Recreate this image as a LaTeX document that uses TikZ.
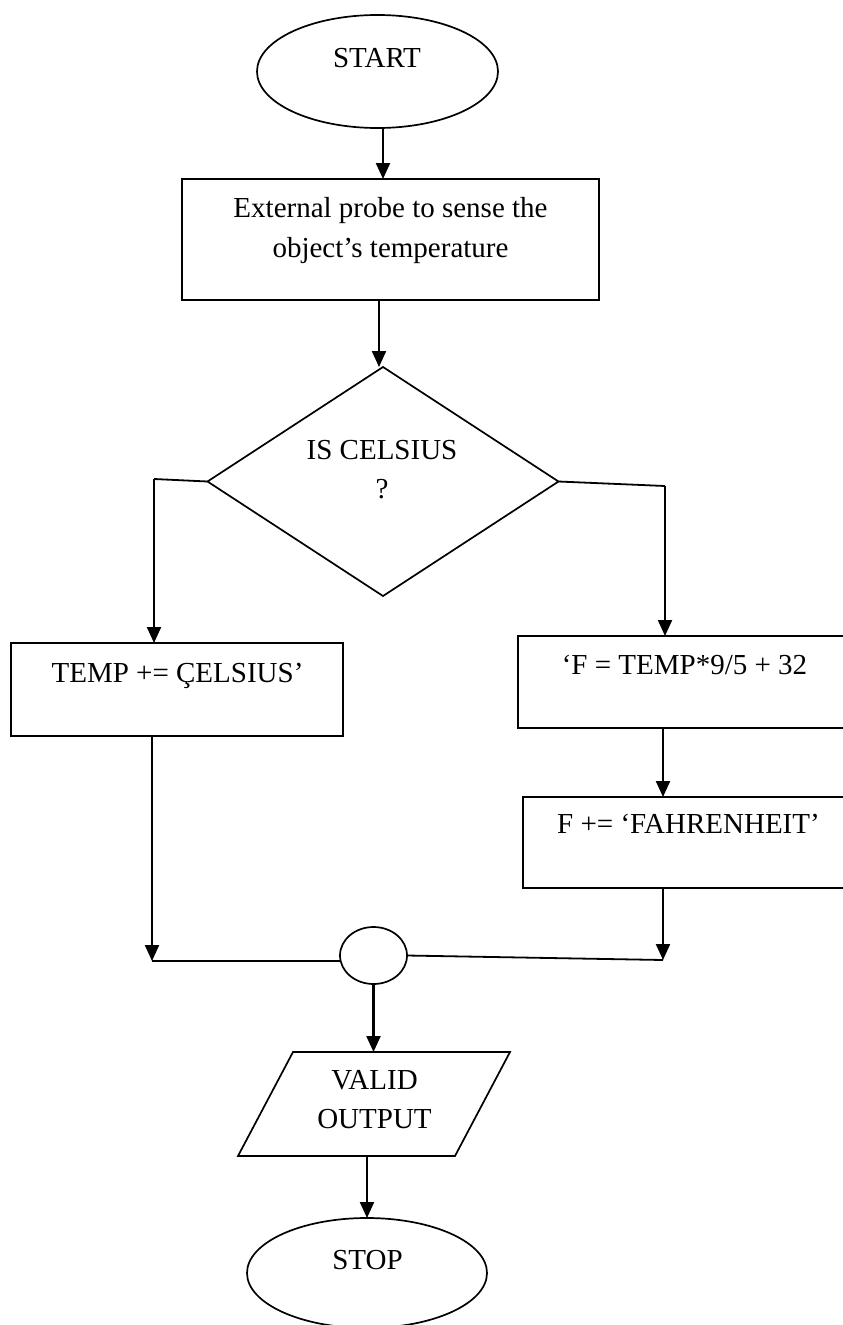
\documentclass[tikz,border=0pt]{standalone}
\usepackage{fontspec}
\setmainfont{Liberation Serif}
\usetikzlibrary{shapes.geometric,arrows.meta}
\begin{document}
\begin{tikzpicture}[x=1pt,y=-1pt,
  lbl/.style={font=\fontsize{29pt}{40pt}\selectfont, inner sep=0pt, outer sep=0pt},
  term/.style={draw, ellipse, line width=1.7pt, inner sep=0pt, outer sep=0pt},
  procbox/.style={draw, rectangle, line width=2.2pt, inner sep=0pt, outer sep=0pt},
  decision/.style={draw, diamond, line width=1.7pt, inner sep=0pt, outer sep=0pt},
  flow/.style={line width=2.2pt, -{Triangle[length=16pt,width=14pt]}},
  link/.style={line width=1.8pt},
]
\useasboundingbox (0,0) rectangle (843,1325);
\clip (0,0) rectangle (843,1325);
\fill[white] (0,0) rectangle (843,1325);

% terminal: start
\node[term, minimum width=241pt, minimum height=113pt] (start) at (377.5,71.5) {};
\node[lbl, anchor=base] (starttxt) at (377,67) {START};

% sensing step
\node[procbox, minimum width=417pt, minimum height=121pt] (probe) at (390.5,239.5) {};
\node[lbl, anchor=north, align=center] (probetxt) at (390.5,197.5) {External probe to sense the\\object’s temperature};

% decision
\node[decision, minimum width=351pt, minimum height=229pt] (isc) at (383,481.5) {};
\node[lbl, anchor=north, align=center, font=\fontsize{29pt}{39pt}\selectfont] (isctxt) at (382,440) {IS CELSIUS\\?};

% celsius branch
\node[procbox, minimum width=332pt, minimum height=93pt] (cel) at (177,689.5) {};
\node[lbl, anchor=base] (celtxt) at (177.5,682) {TEMP += ÇELSIUS’};

% fahrenheit branch
\node[procbox, minimum width=335pt, minimum height=92pt] (conv) at (685.5,682) {};
\node[lbl, anchor=base] (convtxt) at (684.5,674) {‘F = TEMP*9/5 + 32};
\node[procbox, minimum width=330pt, minimum height=91pt] (fah) at (688,842.5) {};
\node[lbl, anchor=base] (fahtxt) at (688.5,833) {F += ‘FAHRENHEIT’};

% connector circle
\node[draw, ellipse, line width=1.7pt, minimum width=67pt, minimum height=57pt, inner sep=0pt, outer sep=0pt] (join) at (373.5,955.5) {};

% output parallelogram
\begin{scope}[shift={(374,1104)}]
  \node[draw, rectangle, line width=1.7pt, xslant=0.529, transform shape,
        minimum width=217pt, minimum height=104pt, inner sep=0pt, outer sep=0pt] (out) at (0,0) {};
\end{scope}
\node[lbl, anchor=north, align=center, font=\fontsize{29pt}{39pt}\selectfont] (outtxt) at (374.5,1070) {VALID\\OUTPUT};

% terminal: stop
\node[term, minimum width=240pt, minimum height=110pt] (stop) at (367,1273) {};
\node[lbl, anchor=base] (stoptxt) at (367.5,1269) {STOP};

% bend points
\coordinate (lcorner) at (154,479);
\coordinate (rcorner) at (665,486);
\coordinate (ljoin) at (152,961);
\coordinate (rjoin) at (663,960);

% connectors
\draw[flow] ([xshift=5.5pt]start.south) -- ([xshift=5.5pt]start.south |- probe.north);
\draw[flow] ([xshift=-11.5pt]probe.south) -- ([xshift=-11.5pt]probe.south |- isc.north);
\draw[link] (isc.west) -- (lcorner);
\draw[flow] (lcorner) -- (lcorner |- cel.north);
\draw[link] (isc.east) -- (rcorner);
\draw[flow] (rcorner) -- (rcorner |- conv.north);
\draw[flow] ([xshift=-25pt]cel.south) -- (ljoin);
\draw[link] (ljoin) -- (ljoin -| join.west);
\draw[flow] ([xshift=-22.5pt]conv.south) -- ([xshift=-22.5pt]conv.south |- fah.north);
\draw[flow] ([xshift=-25pt]fah.south) -- (rjoin);
\draw[link] (join.east) -- (rjoin);
\draw[flow] (join.south) -- (join.south |- out.north);
\draw[flow] (stop.north |- out.south) -- (stop.north);
\end{tikzpicture}
\end{document}
